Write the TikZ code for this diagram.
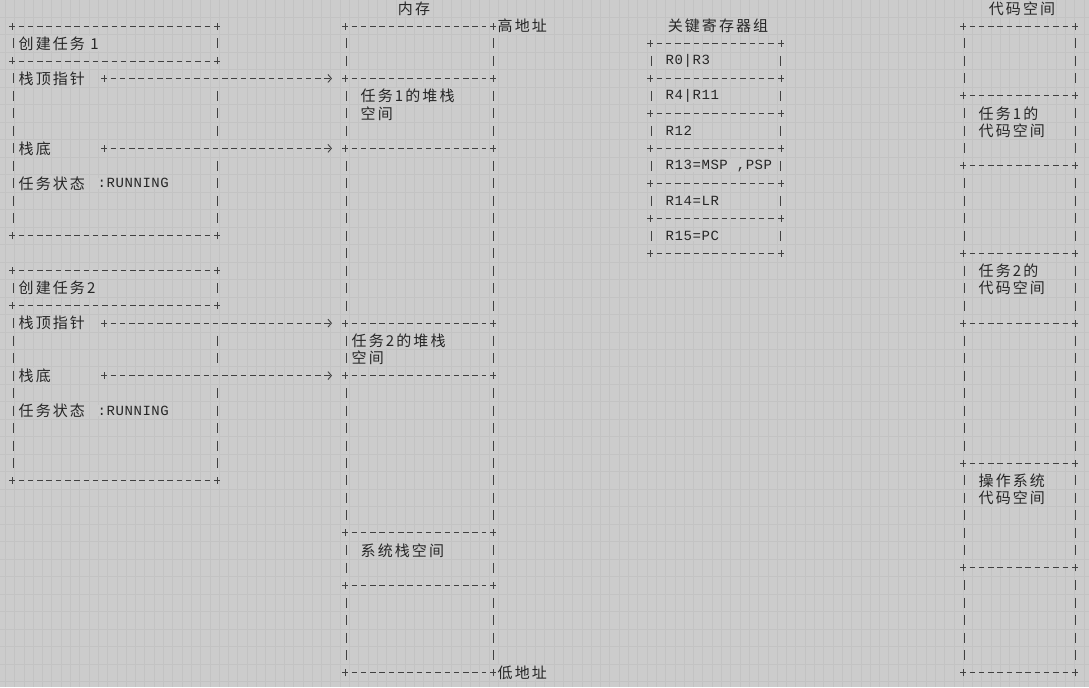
\documentclass[tikz,border=0pt]{standalone}
\usepackage{fontspec}
\setmainfont{Noto Sans CJK SC}[LetterSpace=14]
\newfontfamily\codefont{Liberation Mono}[LetterSpace=4]
\usepackage{tikz}
\usetikzlibrary{arrows.meta}
\definecolor{bgcol}{HTML}{CCCCCC}
\definecolor{gridcol}{HTML}{C3C3C3}
\definecolor{inkcol}{HTML}{262626}
\definecolor{linecol}{HTML}{404040}
\tikzset{>=latex}
\tikzset{
    gridline/.style={gridcol, line width=0.8pt},
    ascii/.style={linecol, line width=0.9pt},
    hdash/.style={ascii, dash pattern=on 5.5pt off 3.8pt},
    vdash/.style={ascii, dash pattern=on 10pt off 7.48pt},
    ptr/.style={hdash, -{Straight Barb[length=3.5pt, width=8pt]}},
    txt/.style={anchor=west, inner sep=0.5pt, fill=bgcol, text=inkcol, font=\fontsize{15}{15}\selectfont},
    ctxt/.style={txt, font=\codefont\fontsize{14}{14}\selectfont},
    title/.style={txt, anchor=center},
}
\newcommand{\crossmark}[2]{\draw[ascii](#1, #2) +(-3pt, 0) -- +(3pt, 0) +(0, -3.5pt) -- +(0, 3.5pt);}
\newcommand{\dashrow}[3]{\crossmark{#1}{#3}\crossmark{#2}{#3}\draw[hdash]({#1+6.55}, #3) -- ({#2-6.55}, #3);}
\newcommand{\dashcol}[3]{\draw[vdash](#1, {#2-0.286}) -- (#1, {#3+0.286});}

\begin{document}
\begin{tikzpicture}[x=1pt, y=-17.48pt]
    \useasboundingbox(0, -0.4874) rectangle (1089, 38.815);
    \fill[bgcol](0, -0.4874) rectangle (1089, 38.815);
    \foreach \r in {0,...,38} \draw[gridline](0, \r+0.5) -- (1089, \r+0.5);
    \foreach \c in {0,...,116} \draw[gridline]({5.3+9.3*\c}, -0.4874) -- ({5.3+9.3*\c}, 38.815);

    % titles
    \node[title](memtitle) at (414, 0){内存};
    \node[title](regtitle) at (718, 1){关键寄存器组};
    \node[title](codetitle) at (1022, 0){代码空间};
    \node[txt](hiaddr) at (497, 1){高地址};
    \node[txt](loaddr) at (497, 38){低地址};

    % task 1
    \node[txt](t1name) at (18, 2){创建任务 1};
    \node[txt](t1sp) at (18, 4){栈顶指针};
    \node[txt](t1bot) at (18, 8){栈底};
    \node[txt](t1state) at (18, 10){任务状态};
    \node[ctxt](t1run) at (97, 10){:RUNNING};
    \dashrow{12}{217}{1}
    \dashrow{12}{217}{3}
    \dashrow{12}{217}{13}
    \dashcol{13}{2}{2}
    \dashcol{13}{4}{12}
    \dashcol{217}{2}{2}
    \dashcol{217}{5}{7}
    \dashcol{217}{9}{12}

    % task 2
    \node[txt](t2name) at (18, 16){创建任务2};
    \node[txt](t2sp) at (18, 18){栈顶指针};
    \node[txt](t2bot) at (18, 21){栈底};
    \node[txt](t2state) at (18, 23){任务状态};
    \node[ctxt](t2run) at (97, 23){:RUNNING};
    \dashrow{12}{217}{15}
    \dashrow{12}{217}{17}
    \dashrow{12}{217}{27}
    \dashcol{13}{16}{16}
    \dashcol{13}{18}{26}
    \dashcol{217}{16}{16}
    \dashcol{217}{19}{20}
    \dashcol{217}{22}{26}

    % memory
    \node[txt](stk1a) at (360, 5){任务1的堆栈};
    \node[txt](stk1b) at (360, 6){空间};
    \node[txt](stk2a) at (351, 19){任务2的堆栈};
    \node[txt](stk2b) at (351, 20){空间};
    \node[txt](sysstk) at (360, 31){系统栈空间};
    \foreach \r in {1, 4, 8, 18, 21, 30, 33, 38}{\dashrow{345}{493}{\r}}
    \foreach \a/\b in {2/3, 5/7, 9/17, 19/20, 22/29, 31/32, 34/37}{
        \dashcol{346}{\a}{\b}
        \dashcol{493}{\a}{\b}
    }

    % pointers
    \coordinate(p1a) at (104, 4);
    \coordinate(p1b) at (332, 4);
    \coordinate(p2a) at (104, 8);
    \coordinate(p2b) at (332, 8);
    \coordinate(p3a) at (104, 18);
    \coordinate(p3b) at (332, 18);
    \coordinate(p4a) at (104, 21);
    \coordinate(p4b) at (332, 21);
    \foreach \p in {1, 2, 3, 4}{
        \draw[ptr]([xshift=6.5pt]p\p a) -- (p\p b);
    }
    \crossmark{104}{4}
    \crossmark{104}{8}
    \crossmark{104}{18}
    \crossmark{104}{21}

    % registers
    \node[ctxt](r0) at (665, 3){R0|R3};
    \node[ctxt](r4) at (665, 5){R4|R11};
    \node[ctxt](r12) at (665, 7){R12};
    \node[ctxt](r13) at (665, 9){R13=MSP ,PSP};
    \node[ctxt](r14) at (665, 11){R14=LR};
    \node[ctxt](r15) at (665, 13){R15=PC};
    \foreach \r in {2, 4, ..., 14}{\dashrow{650}{781}{\r}}
    \foreach \r in {3, 5, ..., 13}{
        \dashcol{651}{\r}{\r}
        \dashcol{780}{\r}{\r}
    }

    % code space
    \node[txt](c1a) at (978, 6){任务1的};
    \node[txt](c1b) at (978, 7){代码空间};
    \node[txt](c2a) at (978, 15){任务2的};
    \node[txt](c2b) at (978, 16){代码空间};
    \node[txt](osa) at (978, 27){操作系统};
    \node[txt](osb) at (978, 28){代码空间};
    \foreach \r in {1, 5, 9, 14, 18, 26, 32, 38}{\dashrow{963}{1075}{\r}}
    \foreach \a/\b in {2/4, 6/8, 10/13, 15/17, 19/25, 27/31, 33/37}{
        \dashcol{964}{\a}{\b}
        \dashcol{1075}{\a}{\b}
    }
\end{tikzpicture}
\end{document}
